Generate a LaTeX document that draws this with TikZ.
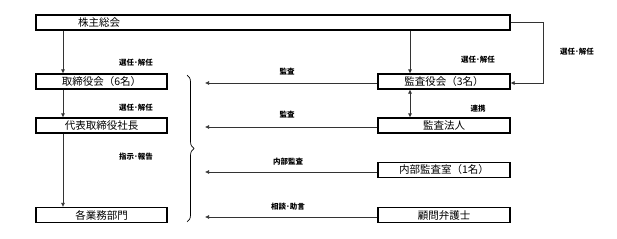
\documentclass[tikz,border=0pt]{standalone}
\usepackage{fontspec}
\newfontfamily\jp{Noto Sans CJK JP}
\usetikzlibrary{arrows.meta,positioning,calc,decorations.pathreplacing}

\begin{document}
\begin{tikzpicture}[x=1pt, y=-1pt,
  font=\jp, >={Latex[length=4pt,width=4pt]},
  box/.style={draw, line width=1.1pt, minimum height=15pt, inner sep=0pt,
              font=\jp\fontsize{10.5}{11}\selectfont},
  lbox/.style={box, minimum width=131pt},
  rbox/.style={box, minimum width=132pt},
  lbl/.style={font=\jp\bfseries\fontsize{7.5}{8}\selectfont, inner sep=0pt},
  arr/.style={->, line width=0.6pt, draw=black!80}]
\useasboundingbox (0,0) rectangle (617,238);

% ---------------------------------------------------- boxes
\node[box, minimum width=474pt, text width=474pt, align=left] (soukai) at (273,22.5)
  {\hspace*{42pt}株主総会};
\node[lbox] (torishimari) at (101.5,81.5) {取締役会（6名）};
\node[lbox] (shachou) at (101.5,125.5) {代表取締役社長};
\node[lbox] (gyoumu) at (101.5,215) {各業務部門};
\node[rbox] (kansayaku) at (444,81.5) {監査役会（3名）};
\node[rbox] (houjin) at (444,125.5) {監査法人};
\node[rbox] (naibu) at (444,170) {内部監査室（1名）};
\node[rbox] (komon) at (444,215) {顧問弁護士};

% ---------------------------------------------------- vertical lines
\coordinate (lx) at (63,0);
\coordinate (rx) at (410,0);
\draw[arr] (soukai.south -| lx) -- (torishimari.north -| lx);
\draw[arr] (torishimari.south -| lx) -- (shachou.north -| lx);
\draw[arr] (shachou.south -| lx) -- (gyoumu.north -| lx);
\draw[arr] (soukai.south -| rx) -- (kansayaku.north -| rx);
\draw[arr, <->] (kansayaku.south -| rx) -- (houjin.north -| rx);
\draw[arr] (soukai.east) -- ++(33,0) |- ($(kansayaku.east)+(0,1.5)$);

\node[lbl] (l1) at (136,63) {選任･解任};
\node[lbl] (l2) at (136,108) {選任･解任};
\node[lbl] (l3) at (136,157) {指示･報告};
\node[lbl] (r1) at (478,60) {選任･解任};
\node[lbl] (r2) at (478,109) {連携};
\node[lbl] (r3) at (577,52) {選任･解任};

% ---------------------------------------------------- brace and audits
\draw[line width=0.7pt, decorate, decoration={brace, amplitude=7pt}]
  (187,75) -- (187,222);
\foreach \src/\y in {kansayaku/83, houjin/127, naibu/172, komon/217}{
  \coordinate (\src-end) at (205,\y);
  \draw[arr] (\src.west |- \src-end) -- (\src-end);}
\node[lbl] (h1) at (287,72) {監査};
\node[lbl] (h2) at (287,115) {監査};
\node[lbl] (h3) at (288,162) {内部監査};
\node[lbl] (h4) at (288,207) {相談･助言};
\end{tikzpicture}
\end{document}
